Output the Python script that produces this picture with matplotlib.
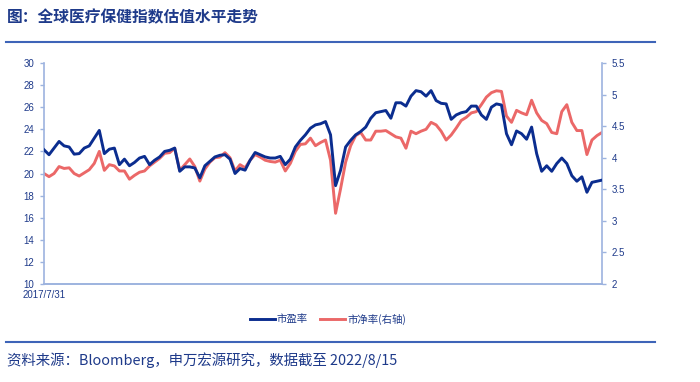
import matplotlib
matplotlib.use("Agg")
import matplotlib.pyplot as plt
import pandas as pd
from matplotlib.lines import Line2D

plt.rcParams['font.family'] = ['Liberation Sans', 'Noto Sans CJK SC', 'DejaVu Sans']

start_date = "2017-07-31"
end_date = "2022-08-15"

pe = [22.15, 21.7, 22.3, 22.9, 22.5, 22.4, 21.75, 21.8, 22.3, 22.5,
      23.2, 23.9, 21.8, 22.2, 22.3, 20.8, 21.3, 20.7, 21.0, 21.4,
      21.55, 20.8, 21.2, 21.5, 22.0, 22.1, 22.3, 20.2, 20.6, 20.6,
      20.5, 19.6, 20.7, 21.1, 21.5, 21.65, 21.7, 21.3, 20.0, 20.45,
      20.3, 21.2, 21.9, 21.7, 21.5, 21.4, 21.4, 21.55, 20.8, 21.3,
      22.4, 23.0, 23.5, 24.1, 24.4, 24.5, 24.7, 23.5, 18.9, 20.3,
      22.4, 23.0, 23.5, 23.8, 24.2, 25.0, 25.5, 25.6, 25.7, 25.0,
      26.4, 26.4, 26.1, 27.0, 27.5, 27.4, 27.0, 27.5, 26.6, 26.35,
      26.3, 24.9, 25.3, 25.5, 25.6, 26.1, 26.1, 25.3, 24.9, 26.0,
      26.3, 26.2, 23.6, 22.6, 23.85, 23.6, 23.1, 24.2, 21.8, 20.2,
      20.7, 20.2, 20.9, 21.4, 20.9, 19.8, 19.3, 19.7, 18.3, 19.2,
      19.3, 19.4]

pb = [3.75, 3.70, 3.75, 3.86, 3.83, 3.84, 3.75, 3.71, 3.76, 3.81,
      3.91, 4.10, 3.80, 3.89, 3.87, 3.79, 3.79, 3.66, 3.72, 3.77,
      3.79, 3.87, 3.93, 3.99, 4.07, 4.08, 4.15, 3.80, 3.89, 3.98,
      3.86, 3.63, 3.82, 3.93, 4.00, 4.01, 4.08, 4.00, 3.79, 3.89,
      3.84, 3.96, 4.05, 4.01, 3.96, 3.94, 3.93, 3.96, 3.79, 3.91,
      4.10, 4.21, 4.22, 4.31, 4.19, 4.24, 4.28, 3.96, 3.12, 3.51,
      3.93, 4.19, 4.35, 4.40, 4.28, 4.28, 4.42, 4.42, 4.43, 4.38,
      4.33, 4.31, 4.15, 4.42, 4.38, 4.42, 4.45, 4.56, 4.52, 4.42,
      4.28, 4.36, 4.47, 4.59, 4.64, 4.71, 4.73, 4.84, 4.96, 5.03,
      5.06, 5.05, 4.66, 4.56, 4.75, 4.71, 4.68, 4.91, 4.71, 4.59,
      4.54, 4.40, 4.38, 4.73, 4.84, 4.56, 4.43, 4.43, 4.05, 4.28,
      4.35, 4.40]

left_ticks = [10, 12, 14, 16, 18, 20, 22, 24, 26, 28, 30]
right_ticks = [2, 2.5, 3, 3.5, 4, 4.5, 5, 5.5]
right_labels = ["2", "2.5", "3", "3.5", "4", "4.5", "5", "5.5"]
x_label = "2017/7/31"
series_names = ["市盈率", "市净率(右轴)"]
title = "图：全球医疗保健指数估值水平走势"
source = "资料来源：Bloomberg，申万宏源研究，数据截至 2022/8/15"

dates = pd.date_range(start_date, end_date, periods=len(pe))

BLUE = "#0B2D8F"
RED = "#EB6868"
TXT = "#1E3A8A"
SPINE = "#9DB3DF"
RULE = "#3E64B8"

fig = plt.figure(figsize=(7.0, 3.82), dpi=100)
ax = fig.add_axes([44/700, 1-284/382, (602-44)/700, (284-63)/382])
ax2 = ax.twinx()

ax.plot(dates, pe, color=BLUE, lw=2.1, zorder=3)
ax2.plot(dates, pb, color=RED, lw=2.1, zorder=2)
ax.set_zorder(ax2.get_zorder() + 1)
ax.patch.set_visible(False)

ax.set_xlim(dates[0], pd.Timestamp(end_date))
ax.set_ylim(10, 30)
ax2.set_ylim(2, 5.5)
ax.set_yticks(left_ticks)
ax.set_yticklabels([str(t) for t in left_ticks])
ax2.set_yticks(right_ticks)
ax2.set_yticklabels(right_labels)
ax.set_xticks([dates[0]])
ax.set_xticklabels([x_label])

for a in (ax, ax2):
    for s in a.spines.values():
        s.set_color(SPINE)
        s.set_linewidth(1.2)
    a.spines['top'].set_visible(False)
ax.spines['right'].set_visible(False)
ax2.spines['left'].set_visible(False)

ax.tick_params(axis='y', colors=SPINE, length=3, width=1, labelcolor=TXT, labelsize=7, pad=4)
ax2.tick_params(axis='y', colors=SPINE, length=3, width=1, labelcolor=TXT, labelsize=7, pad=4)
ax.tick_params(axis='x', length=0, labelcolor=TXT, labelsize=7, pad=4)

fig.text(7/700, 1-17/382, title, fontsize=11.3, fontweight='bold', color=TXT,
         va='center', ha='left', family=['Noto Sans CJK SC', 'DejaVu Sans'])
fig.add_artist(Line2D([6/700, 655/700], [1-42/382, 1-42/382], color=RULE, lw=1.5))
fig.add_artist(Line2D([6/700, 655/700], [1-342/382, 1-342/382], color=RULE, lw=1.5))
fig.text(7/700, 1-360/382, source, fontsize=10.4, color=TXT, va='center', ha='left',
         family=['Noto Sans CJK SC', 'DejaVu Sans'])

handles = [Line2D([], [], color=BLUE, lw=2.1), Line2D([], [], color=RED, lw=2.1)]
leg = fig.legend(handles, series_names, loc='center', bbox_to_anchor=(328/700, 1-319/382),
                 ncol=2, frameon=False, handlelength=2.4, handletextpad=0.2,
                 columnspacing=1.2, prop={'family': ['Noto Sans CJK SC', 'DejaVu Sans'], 'size': 7.5})
for t in leg.get_texts():
    t.set_color(TXT)

fig.savefig("out.png", dpi=100)
